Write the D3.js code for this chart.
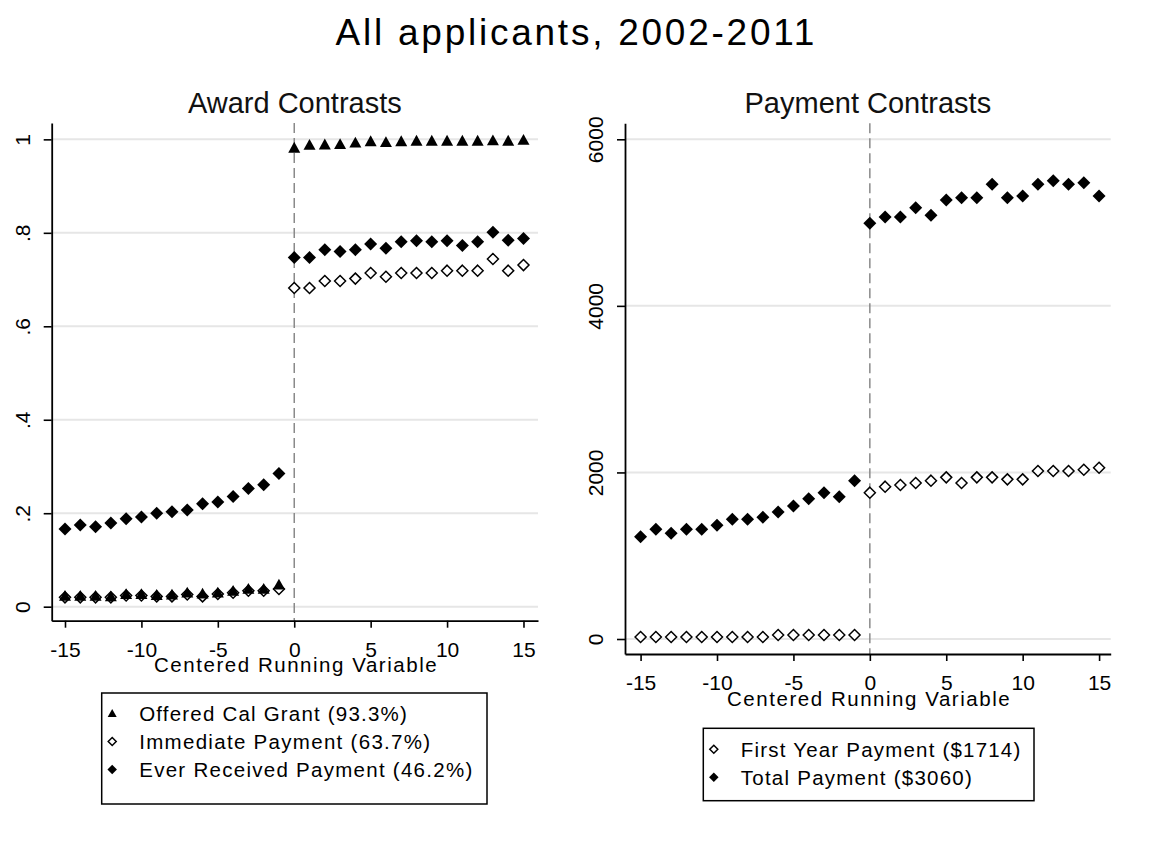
<!DOCTYPE html>
<html>
<head>
<meta charset="utf-8">
<script src="https://cdn.jsdelivr.net/npm/d3@7"></script>
<style>
  html, body { margin: 0; padding: 0; background: #fff; }
  svg { display: block; font-family: "Liberation Sans", Arial, Helvetica, sans-serif; }
</style>
</head>
<body>
<svg id="chart" width="1150" height="848"></svg>
<script>
// Centered running variable (bins below / at-or-above the cutoff)
const xBelow = [-15, -14, -13, -12, -11, -10, -9, -8, -7, -6, -5, -4, -3, -2, -1];
const xAbove = [0, 1, 2, 3, 4, 5, 6, 7, 8, 9, 10, 11, 12, 13, 14, 15];

// Award contrasts (shares)
const offeredBelow   = [0.023, 0.023, 0.023, 0.022, 0.027, 0.027, 0.025, 0.026, 0.030, 0.028, 0.030, 0.034, 0.038, 0.038, 0.047];
const offeredAbove   = [0.982, 0.988, 0.989, 0.990, 0.993, 0.996, 0.994, 0.996, 0.997, 0.997, 0.997, 0.997, 0.997, 0.998, 0.997, 0.999];
const immediateBelow = [0.020, 0.020, 0.020, 0.020, 0.024, 0.024, 0.022, 0.022, 0.026, 0.022, 0.027, 0.030, 0.034, 0.034, 0.038];
const immediateAbove = [0.682, 0.682, 0.697, 0.697, 0.702, 0.714, 0.706, 0.714, 0.714, 0.714, 0.719, 0.719, 0.719, 0.744, 0.719, 0.731];
const everBelow      = [0.166, 0.175, 0.171, 0.179, 0.188, 0.192, 0.200, 0.203, 0.207, 0.220, 0.224, 0.236, 0.253, 0.261, 0.285];
const everAbove      = [0.747, 0.747, 0.764, 0.760, 0.764, 0.776, 0.767, 0.781, 0.783, 0.781, 0.783, 0.773, 0.781, 0.801, 0.784, 0.788];

// Payment contrasts (dollars)
const firstYearBelow = [24, 24, 24, 24, 24, 24, 24, 24, 24, 48, 48, 48, 48, 48, 48];
const firstYearAbove = [1757, 1829, 1849, 1873, 1901, 1941, 1873, 1941, 1941, 1917, 1917, 2017, 2017, 2017, 2033, 2057];
const totalBelow     = [1228, 1317, 1269, 1317, 1317, 1365, 1437, 1437, 1461, 1525, 1597, 1685, 1757, 1709, 1901];
const totalAbove     = [4991, 5067, 5067, 5179, 5087, 5271, 5299, 5299, 5459, 5299, 5319, 5459, 5503, 5459, 5479, 5319];

// Axis ticks and labels
const xTicks = [-15, -10, -5, 0, 5, 10, 15];
const awardTicks = [0, 0.2, 0.4, 0.6, 0.8, 1];
const awardTickLabels = ["0", ".2", ".4", ".6", ".8", "1"];
const paymentTicks = [0, 2000, 4000, 6000];
const paymentTickLabels = ["0", "2000", "4000", "6000"];

// Titles and legend entries
const mainTitle = "All applicants, 2002-2011";
const awardTitle = "Award Contrasts";
const paymentTitle = "Payment Contrasts";
const xTitle = "Centered Running Variable";
const awardLegend = ["Offered Cal Grant (93.3%)", "Immediate Payment (63.7%)", "Ever Received Payment (46.2%)"];
const paymentLegend = ["First Year Payment ($1714)", "Total Payment ($3060)"];

const svg = d3.select("#chart");

// marker shapes
function trianglePath(s) {
  const h = s * 0.9;
  return `M0,${-h / 2 - 0.5}L${s / 2},${h / 2 - 0.5}L${-s / 2},${h / 2 - 0.5}Z`;
}
function diamondPath(r) {
  return `M0,${-r}L${r},0L0,${r}L${-r},0Z`;
}
function drawMarker(g, shape, size) {
  if (shape === "triangle") {
    return g.append("path").attr("d", trianglePath(size)).attr("fill", "#000");
  } else if (shape === "hollow") {
    return g.append("path").attr("d", diamondPath(size / 2))
      .attr("fill", "#fff").attr("stroke", "#000").attr("stroke-width", 1.5);
  } else {
    return g.append("path").attr("d", diamondPath(size / 2)).attr("fill", "#000");
  }
}

// spread a label's glyphs to a given width factor
function stretch(sel, k) {
  sel.each(function () {
    const w = this.getComputedTextLength();
    d3.select(this).attr("textLength", w * k).attr("lengthAdjust", "spacing");
  });
}

function zip(xs, ys) { return xs.map((x, i) => ({ x, y: ys[i] })); }

function panel(cfg) {
  const x = d3.scaleLinear().domain(cfg.xDomain).range(cfg.xRange);
  const y = d3.scaleLinear().domain(cfg.yDomain).range(cfg.yRange);
  const g = svg.append("g");

  // gridlines
  g.append("g").selectAll("line").data(cfg.yTicks).join("line")
    .attr("x1", cfg.xRange[0]).attr("x2", cfg.xRange[1])
    .attr("y1", d => y(d)).attr("y2", d => y(d))
    .attr("stroke", "#e6e6e6").attr("stroke-width", 2);

  // cutoff reference line
  g.append("line")
    .attr("x1", x(0)).attr("x2", x(0))
    .attr("y1", cfg.yRange[1]).attr("y2", cfg.yRange[0])
    .attr("stroke", "#8a8a8a").attr("stroke-width", 1.5)
    .attr("stroke-dasharray", "10,5");

  // x axis
  const xa = g.append("g").attr("transform", `translate(0,${cfg.yRange[0]})`)
    .call(d3.axisBottom(x).tickValues(xTicks).tickSize(7).tickSizeOuter(0).tickPadding(14)
      .tickFormat(d => String(d)));
  xa.select(".domain").attr("stroke", "#000").attr("stroke-width", 1.8);
  xa.selectAll(".tick line").attr("stroke", "#000").attr("stroke-width", 1.6);
  xa.selectAll(".tick text").attr("font-size", 21).attr("fill", "#000")
    .attr("font-family", "Liberation Sans, Arial, sans-serif");

  // y axis
  const ya = g.append("g").attr("transform", `translate(${cfg.xRange[0]},0)`)
    .call(d3.axisLeft(y).tickValues(cfg.yTicks).tickSize(8).tickSizeOuter(0)
      .tickFormat((d, i) => cfg.yTickLabels[i]));
  ya.select(".domain").attr("stroke", "#000").attr("stroke-width", 1.8);
  ya.selectAll(".tick line").attr("stroke", "#000").attr("stroke-width", 1.6);
  ya.selectAll(".tick text")
    .attr("x", null).attr("dy", null).attr("y", null)
    .attr("transform", "translate(-22,0) rotate(-90)")
    .attr("text-anchor", "middle")
    .attr("font-size", 21).attr("fill", "#000")
    .attr("font-family", "Liberation Sans, Arial, sans-serif");

  // panel title
  g.append("text").attr("x", (cfg.xRange[0] + cfg.xRange[1]) / 2).attr("y", 112.5)
    .attr("text-anchor", "middle").attr("font-size", 29).attr("fill", "#111")
    .text(cfg.title);

  // x-axis title
  g.append("text").attr("x", (cfg.xRange[0] + cfg.xRange[1]) / 2 + 0.5)
    .attr("y", cfg.yRange[0] + 51.5)
    .attr("text-anchor", "middle").attr("font-size", 20.5).attr("fill", "#000")
    .text(xTitle).call(stretch, 1.15);

  // markers
  cfg.series.forEach(s => {
    const pts = g.append("g").selectAll("g").data(s.points).join("g")
      .attr("transform", d => `translate(${x(d.x)},${y(d.y)})`);
    pts.each(function () { drawMarker(d3.select(this), s.shape, s.size); });
  });

  // legend
  const lg = g.append("g");
  lg.append("rect").attr("x", cfg.legend.x).attr("y", cfg.legend.y)
    .attr("width", cfg.legend.w).attr("height", cfg.legend.h)
    .attr("fill", "#fff").attr("stroke", "#000").attr("stroke-width", 1.5);
  cfg.legend.items.forEach((it, i) => {
    const cy = cfg.legend.y + cfg.legend.first + i * 28;
    const mg = lg.append("g").attr("transform", `translate(${cfg.legend.x + 10.5},${cy})`);
    drawMarker(mg, it.shape, it.size);
    lg.append("text").attr("x", cfg.legend.x + 37.5).attr("y", cy + 7.5)
      .attr("font-size", 20.5).attr("fill", "#000").text(it.label).call(stretch, 1.12);
  });
}

// main title
svg.append("text").attr("x", 575).attr("y", 45).attr("text-anchor", "middle")
  .attr("font-size", 37).attr("fill", "#000").text(mainTitle).call(stretch, 1.16);

panel({
  xDomain: [-15.87, 15.95], xRange: [51.7, 538],
  yDomain: [-0.03, 1.035], yRange: [620.7, 123],
  yTicks: awardTicks, yTickLabels: awardTickLabels,
  title: awardTitle,
  series: [
    { shape: "hollow", size: 11, points: zip(xBelow, immediateBelow).concat(zip(xAbove, immediateAbove)) },
    { shape: "filled", size: 13, points: zip(xBelow, everBelow).concat(zip(xAbove, everAbove)) },
    { shape: "triangle", size: 12, points: zip(xBelow, offeredBelow).concat(zip(xAbove, offeredAbove)) }
  ],
  legend: {
    x: 101.7, y: 693, w: 385.3, h: 111, first: 20.5,
    items: [
      { shape: "triangle", size: 9, label: awardLegend[0] },
      { shape: "hollow", size: 8, label: awardLegend[1] },
      { shape: "filled", size: 9.5, label: awardLegend[2] }
    ]
  }
});

panel({
  xDomain: [-16.02, 15.76], xRange: [625, 1110.7],
  yDomain: [-180, 6192], yRange: [654, 123.3],
  yTicks: paymentTicks, yTickLabels: paymentTickLabels,
  title: paymentTitle,
  series: [
    { shape: "hollow", size: 11, points: zip(xBelow, firstYearBelow).concat(zip(xAbove, firstYearAbove)) },
    { shape: "filled", size: 13, points: zip(xBelow, totalBelow).concat(zip(xAbove, totalAbove)) }
  ],
  legend: {
    x: 703.3, y: 728.3, w: 330.7, h: 72.4, first: 21,
    items: [
      { shape: "hollow", size: 8, label: paymentLegend[0] },
      { shape: "filled", size: 9.5, label: paymentLegend[1] }
    ]
  }
});
</script>
</body>
</html>
